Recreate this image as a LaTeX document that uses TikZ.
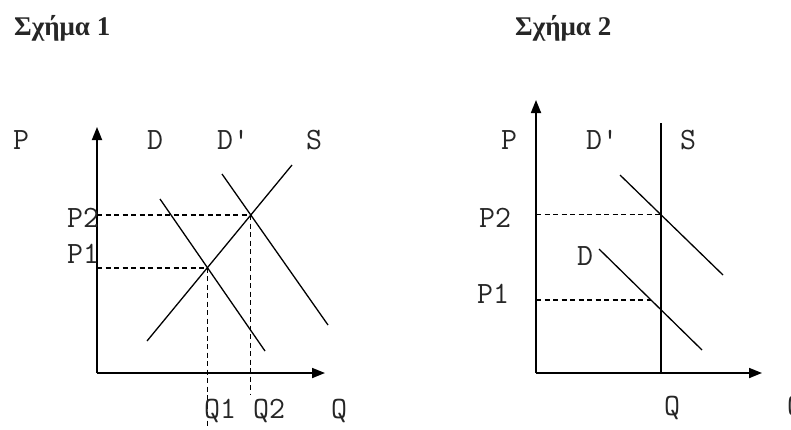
\documentclass[tikz,border=0pt]{standalone}
\usepackage{fontspec}
\setmainfont{Liberation Serif}
\usetikzlibrary{arrows.meta}

\begin{document}
\begin{tikzpicture}[
    x=1pt,
    y=-1pt,
    line cap=butt,
    line join=round,
    axis/.style={
        line width=1.8pt,
        -{Triangle[length=13pt,width=10pt]}
    },
    curve/.style={
        line width=1.3pt
    },
    guide/.style={
        line width=1.1pt,
        dash pattern=on 5pt off 3.5pt
    },
    guidebold/.style={
        line width=1.8pt,
        dash pattern=on 5pt off 3.5pt
    },
    lab/.style={
        font=\fontsize{31}{31}\ttfamily,
        inner sep=0pt,
        anchor=base,
        text=black!85
    },
    caption/.style={
        font=\fontsize{27}{27}\selectfont\bfseries,
        inner sep=0pt,
        anchor=base west,
        text=black!85
    }
]

\useasboundingbox (0,0) rectangle (791,429);
\coordinate (bot) at (0,429);
\coordinate (q2end) at (0,395);

% =================================================
% Σχήμα 1
% =================================================

\node[caption] (title1) at (14,35) {Σχήμα 1};

\coordinate (O1) at (97,373);
\coordinate (Y1) at (97,127);
\coordinate (X1) at (325,373);

\coordinate (Da)  at (160,199);
\coordinate (Db)  at (265,351);
\coordinate (Dpa) at (222,174);
\coordinate (Dpb) at (328,325);
\coordinate (Sa)  at (147,341);
\coordinate (Sb)  at (292,165);

\coordinate (E1) at (intersection of Da--Db and Sa--Sb);
\coordinate (E2) at (intersection of Dpa--Dpb and Sa--Sb);

% Άξονες
\draw[axis] (O1)--(Y1);
\draw[axis] (O1)--(X1);

% Καμπύλες
\draw[curve] (Da)--(Db);
\draw[curve] (Dpa)--(Dpb);
\draw[curve] (Sa)--(Sb);

% Βοηθητικές γραμμές
\draw[guidebold] (O1 |- E1)--(E1);
\draw[guide] (O1 |- E2)--(E2);
\draw[guide] (E1)--(E1 |- bot);
\draw[guide] (E2)--(E2 |- q2end);

% Ετικέτες
\node[lab] (P)   at (21,149)  {P};
\node[lab] (Dl)  at (155,149) {D};
\node[lab] (Dpl) at (233,149) {D'};
\node[lab] (Sl)  at (314,149) {S};
\node[lab] (P2)  at (83,227)  {P2};
\node[lab] (P1)  at (83,263)  {P1};
\node[lab] (Q1)  at (220,418) {Q1};
\node[lab] (Q2)  at (269,418) {Q2};
\node[lab] (Q)   at (339,418) {Q};

% =================================================
% Σχήμα 2
% =================================================

\node[caption] (title2) at (515,35) {Σχήμα 2};

\coordinate (O2) at (536,373);
\coordinate (Y2) at (536,100);
\coordinate (X2) at (762,373);

\coordinate (Sc)  at (661,123);
\coordinate (Sd)  at (661,373);
\coordinate (Dpc) at (620,175);
\coordinate (Dpd) at (723,275);
\coordinate (Dc)  at (599,249);
\coordinate (Dd)  at (702,350);
\coordinate (h1)  at (536,300);
\coordinate (h2)  at (800,300);

\coordinate (E3) at (intersection of Dpc--Dpd and Sc--Sd);
\coordinate (F)  at (intersection of Dc--Dd and h1--h2);

% Άξονες
\draw[axis] (O2)--(Y2);
\draw[axis] (O2)--(X2);

% Καμπύλες
\draw[curve] (Sc)--(Sd);
\draw[curve] (Dpc)--(Dpd);
\draw[curve] (Dc)--(Dd);

% Βοηθητικές γραμμές
\draw[guide] (O2 |- E3)--(E3);
\draw[guide] (O2 |- F)--(F);

% Ετικέτες
\node[lab] (Pb)   at (509,149) {P};
\node[lab] (Dpbl) at (602,149) {D'};
\node[lab] (Sbl)  at (688,149) {S};
\node[lab] (P2b)  at (495,227) {P2};
\node[lab] (Dbl)  at (585,265) {D};
\node[lab] (P1b)  at (493,303) {P1};
\node[lab] (Qb)   at (672,415) {Q};
\node[lab] (Qc)   at (795,415) {Q};

\end{tikzpicture}
\end{document}
